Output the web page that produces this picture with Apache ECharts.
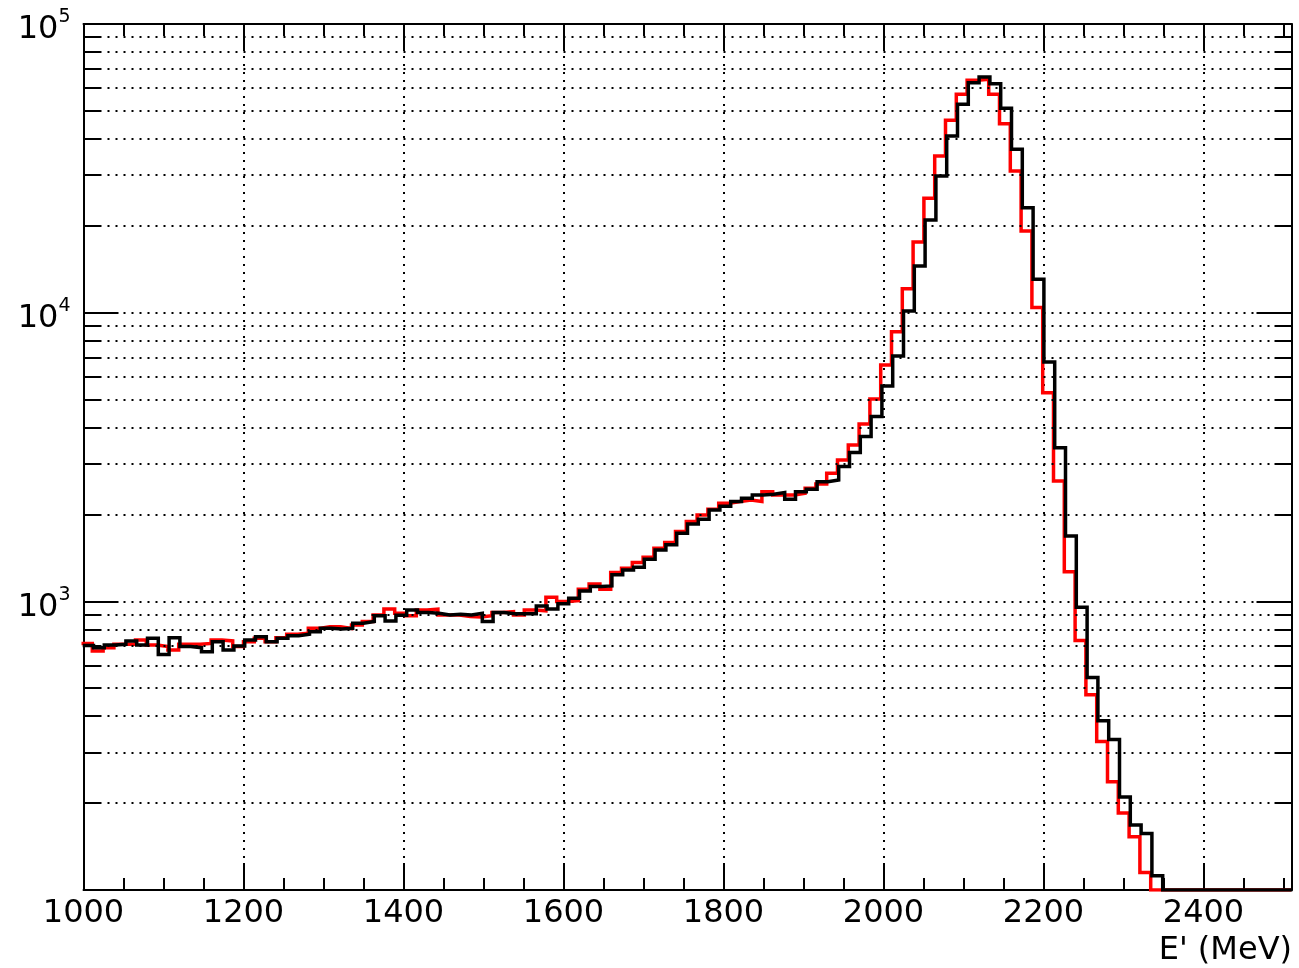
<!DOCTYPE html>
<html>
<head>
<meta charset="utf-8">
<title>E' spectrum</title>
<script src="https://cdn.jsdelivr.net/npm/echarts@6/dist/echarts.min.js"></script>
<style>
html, body { margin: 0; padding: 0; background: #fff; }
#main { width: 1299px; height: 968px; }
</style>
</head>
<body>
<div id="main"></div>
<script>
// binning of both histograms (MeV)
var binLow = 999;
var binWidth = 13.5;

// axis ticks
var xTicks = [ 1000, 1200, 1400, 1600, 1800, 2000, 2200, 2400 ];
var yDecades = [ 100, 1000, 10000, 100000 ];
var yMinorDigits = [ 2, 3, 4, 5, 6, 7, 8, 9 ];

// counts per bin, black histogram
var countsBlack = [
	703, 691, 706, 710, 729, 706, 745, 655, 748, 697,
	691, 669, 725, 678, 700, 735, 754, 725, 745, 760,
	769, 785, 806, 802, 806, 839, 851, 892, 855, 895,
	934, 914, 909, 897, 902, 897, 909, 851, 914, 905,
	905, 905, 964, 941, 980, 1025, 1087, 1125, 1131, 1235,
	1285, 1313, 1399, 1507, 1569, 1721, 1854, 1925, 2074, 2135,
	2216, 2275, 2337, 2349, 2381, 2258, 2399, 2444, 2598, 2633,
	2929, 3275, 3722, 4364, 5573, 7081, 10130, 14510, 20940, 29740,
	40920, 52680, 62630, 65530, 62130, 51040, 36800, 23100, 13050, 6747,
	3406, 1684, 953, 545, 386, 332, 210, 168, 157, 112,
	0, 0, 0, 0, 0, 0, 0, 0, 0, 0,
	0, 0
];

// counts per bin, red histogram
var countsRed = [
	715, 673, 691, 710, 710, 735, 706, 697, 678, 710,
	710, 715, 735, 729, 697, 725, 745, 725, 748, 769,
	775, 806, 817, 817, 806, 828, 851, 897, 940, 909,
	891, 934, 939, 897, 897, 886, 882, 891, 914, 921,
	897, 934, 927, 1033, 998, 1006, 1101, 1149, 1101, 1258,
	1302, 1363, 1422, 1527, 1598, 1744, 1889, 1993, 2085, 2185,
	2216, 2245, 2216, 2399, 2337, 2337, 2368, 2464, 2551, 2777,
	3088, 3483, 4116, 5024, 6592, 8580, 12100, 17570, 24890, 34880,
	46370, 57050, 63790, 64310, 57050, 45150, 30950, 19180, 10430, 5283,
	2611, 1267, 731, 475, 327, 237, 185, 153, 115, 0,
	0, 0, 0, 0, 0, 0, 0, 0, 0, 0,
	0, 0
];

var xMin = 1000, xMax = 2510;
var yMin = 100, yMax = 100000;
var font = "'DejaVu Sans', sans-serif";

/**
 * step points (left edge of every bin + closing edge), empty bins sit on the floor
 */
function histSteps(counts, low) {
	var pts = [];
	for (var i = 0; i < counts.length; i++) {
		pts.push([ low + i * binWidth, Math.max(counts[i], yMin) ]);
	}
	pts.push([ low + counts.length * binWidth, Math.max(counts[counts.length - 1], yMin) ]);
	return pts;
}

/**
 * 2..9 x 10^n grid lines and short ticks on both y sides
 */
function minorMarks() {
	var dot = { color : '#000', type : [ 2, 6 ], width : 2 };
	var solid = { color : '#000', type : 'solid', width : 2 };
	var tickMeV = 17 / 0.8;
	var items = [];
	for (var d = 0; d < yDecades.length - 1; d++) {
		for (var k = 0; k < yMinorDigits.length; k++) {
			var v = yDecades[d] * yMinorDigits[k];
			items.push({ yAxis : v, lineStyle : dot });
			items.push([ { coord : [ xMin, v ], lineStyle : solid }, { coord : [ xMin + tickMeV, v ], lineStyle : solid } ]);
			items.push([ { coord : [ xMax - tickMeV, v ], lineStyle : solid }, { coord : [ xMax, v ], lineStyle : solid } ]);
		}
	}
	return items;
}

function xAxisDef(pos, interval, tickLen, withLabels) {
	return {
		type : 'value',
		position : pos,
		min : xMin,
		max : xMax,
		interval : interval,
		axisLine : { show : withLabels || interval === 200, onZero : false, lineStyle : { color : '#000', width : 2 } },
		axisTick : { show : true, inside : true, length : tickLen, lineStyle : { color : '#000', width : 2 } },
		axisLabel : {
			show : withLabels,
			margin : 8,
			fontSize : 32,
			fontFamily : font,
			color : '#000',
			formatter : function(v) {
				return xTicks.indexOf(v) >= 0 ? String(v) : '';
			}
		},
		splitLine : {
			show : withLabels,
			lineStyle : { color : '#000', type : [ 2, 6 ], width : 2 }
		}
	};
}

function yAxisDef(pos, withLabels) {
	return {
		type : 'log',
		logBase : 10,
		position : pos,
		min : yMin,
		max : yMax,
		axisLine : { show : true, lineStyle : { color : '#000', width : 2 } },
		axisTick : { show : true, inside : true, length : 35, lineStyle : { color : '#000', width : 2 } },
		axisLabel : {
			show : withLabels,
			margin : 13,
			padding : [ 12, 0, 0, 0 ],
			formatter : function(v) {
				var e = Math.round(Math.log(v) / Math.LN10);
				if (Math.pow(10, e) === yMin) {
					return '';
				}
				return '{b|10}{s|' + e + '}';
			},
			rich : {
				b : { fontSize : 32, lineHeight : 44, fontFamily : font, color : '#000' },
				s : { fontSize : 19, lineHeight : 19, verticalAlign : 'top', fontFamily : font, color : '#000' }
			}
		},
		splitLine : {
			show : withLabels,
			lineStyle : { color : '#000', type : [ 2, 6 ], width : 2 }
		},
		minorTick : { show : false },
		minorSplitLine : { show : false }
	};
}

var drawSpectrum = function() {
	var myChart = echarts.init(document.getElementById('main'));

	var option = {
		animation : false,
		backgroundColor : '#fff',
		grid : {
			left : 83.5,
			right : 7.5,
			top : 24,
			bottom : 78,
			outerBoundsMode : 'none'
		},
		xAxis : [
			xAxisDef('bottom', 200, 27, true),
			xAxisDef('bottom', 50, 12, false),
			xAxisDef('top', 200, 27, false),
			xAxisDef('top', 50, 12, false)
		],
		yAxis : [
			yAxisDef('left', true),
			yAxisDef('right', false)
		],
		graphic : [ {
			type : 'text',
			right : 7,
			top : 935,
			style : { text : "E' (MeV)", font : '32px ' + font, fill : '#000' }
		} ],
		series : [ {
			name : 'grid',
			type : 'line',
			data : [],
			silent : true,
			z : 1,
			markLine : {
				silent : true,
				symbol : [ 'none', 'none' ],
				label : { show : false },
				emphasis : { disabled : true },
				animation : false,
				data : minorMarks()
			}
		}, {
			name : 'red',
			type : 'line',
			step : 'end',
			data : histSteps(countsRed, binLow - 1.5),
			symbol : 'none',
			clip : true,
			z : 2,
			lineStyle : { color : '#ff0000', width : 3.5, join : 'miter' }
		}, {
			name : 'black',
			type : 'line',
			step : 'end',
			data : histSteps(countsBlack, binLow),
			symbol : 'none',
			clip : true,
			z : 3,
			lineStyle : { color : '#000', width : 3.5, join : 'miter' }
		} ]
	};
	myChart.setOption(option);
};

drawSpectrum();
</script>
</body>
</html>
